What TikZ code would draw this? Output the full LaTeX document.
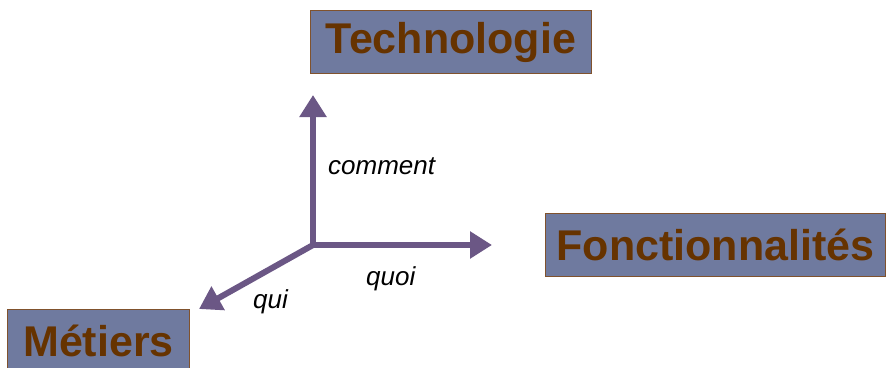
\documentclass[tikz,border=0pt]{standalone}
\usepackage{fontspec}
\setmainfont{Liberation Sans}
\usepackage{tikz}
\usetikzlibrary{arrows.meta}
\usetikzlibrary{positioning}
\definecolor{boxfill}{RGB}{111,122,159}
\definecolor{boxedge}{RGB}{128,82,45}
\definecolor{boxtext}{RGB}{102,51,0}
\definecolor{axis}{RGB}{107,87,133}

\begin{document}
\begin{tikzpicture}[x=1pt,y=-1pt,
    axisbox/.style={anchor=north west,draw=boxedge,line width=1pt,fill=boxfill,text=boxtext,
        font=\fontsize{43}{43}\selectfont\bfseries,inner sep=0pt,minimum height=63pt},
    axisline/.style={draw=axis,line width=6pt,-{Triangle[length=22pt,width=26pt]}},
    axislabel/.style={anchor=base west,inner sep=0pt,font=\fontsize{26}{26}\selectfont\itshape}]
    \useasboundingbox (0,0) rectangle (890,367);

    \node[axisbox,minimum width=281pt] (techno) at (310,10) {Technologie};
    \node[axisbox,minimum width=340pt] (fonct) at (545,213) {Fonctionnalités};
    \node[axisbox,minimum width=182pt] (metiers) at (7,309) {Métiers};

    \coordinate (o) at (313,245);
    \coordinate (up) at (313,95);
    \coordinate (right) at (492,245);
    \coordinate (down) at (199,309);
    \draw[axisline] (o) -- (up);
    \draw[axisline] (o) -- (right);
    \draw[axisline] (o) -- (down);

    \node[axislabel] (comment) at (328,174) {comment};
    \node[axislabel] (quoi) at (366,285) {quoi};
    \node[axislabel] (qui) at (253,308) {qui};
\end{tikzpicture}
\end{document}
